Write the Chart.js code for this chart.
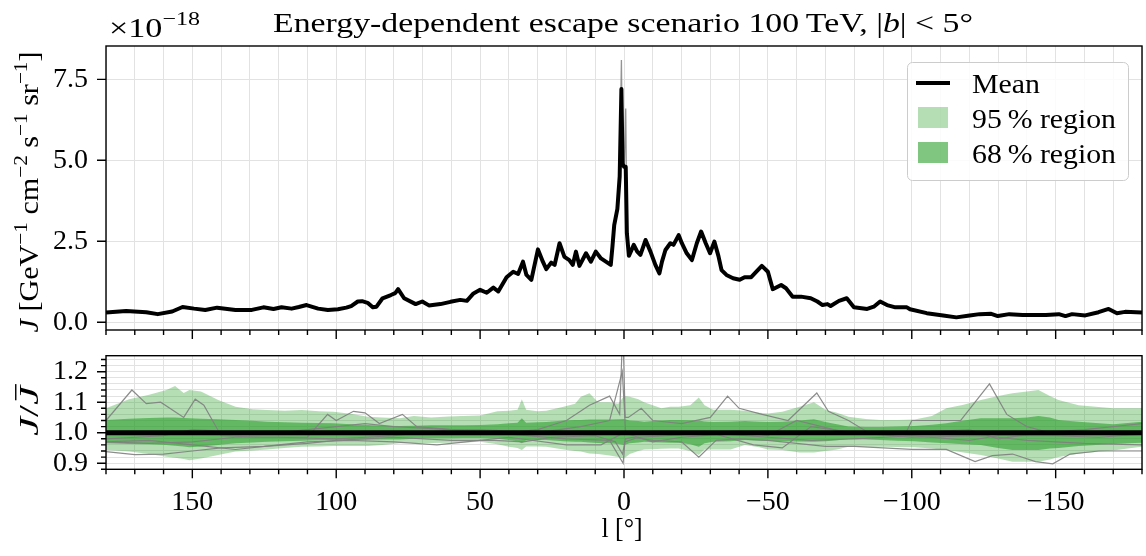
<!DOCTYPE html>
<html>
<head>
<meta charset="utf-8">
<script src="https://cdn.jsdelivr.net/npm/chart.js@4.4.1/dist/chart.umd.min.js"></script>
<style>
  html, body { margin: 0; padding: 0; background: #fff; }
  #wrap { position: relative; width: 1146px; height: 556px; }
  #topChart { position: absolute; left: 0; top: 0; }
  #ratioChart { position: absolute; left: 0; top: 340px; }
</style>
</head>
<body>
<div id="wrap">
  <canvas id="topChart" width="1146" height="340"></canvas>
  <canvas id="ratioChart" width="1146" height="216"></canvas>
</div>
<script>
// ---- data ----
// mean J (x 1e-18) against galactic longitude l
const meanL = [
  180, 173, 166, 162, 157, 153.4, 149.4, 145.5, 141.4, 135,
  129.3, 125.3, 121.8, 119, 115.5, 113, 110.3, 106.3, 102.9, 99.4,
  96.5, 94.8, 92.5, 91, 89.1, 87.3, 86, 83.9, 81, 79.5,
  78.5, 76.4, 72.4, 70.1, 67.8, 63.8, 60.3, 56.9, 54.6, 52.3,
  50, 47.7, 45.4, 43.7, 40.8, 38.5, 36.8, 35.1, 33.9, 32.2,
  29.9, 28.2, 27, 25.3, 24.1, 22.4, 20.7, 19, 17.8, 16.7,
  15.5, 13.2, 11.5, 9.8, 8, 6.3, 4.6, 4.0, 3.4, 2.3,
  1.5, 0.9, 0.5, 0, -0.6, -1.0, -1.7, -3.4, -4.6, -5.7,
  -7.5, -9.2, -10.9, -12.3, -13.2, -14.4, -16.1, -17.2, -19, -20.1,
  -21.8, -23.6, -25.3, -26.8, -28.4, -29.9, -31.4, -32.8, -33.9, -35.6,
  -37.9, -40.2, -41.9, -44.2, -46, -47.9, -50, -51.7, -54.6, -56.3,
  -58.6, -61.5, -64.9, -67.2, -69, -70.7, -71.8, -74.7, -77.4, -79.9,
  -84.5, -86.8, -89, -91.4, -94.3, -98.3, -99.4, -105.2, -110.9, -115.5,
  -120.1, -123.6, -127.6, -129.9, -133.9, -138.5, -146.6, -151.1, -153.4, -155.7,
  -160.3, -164.9, -168.4, -171.3, -174.1, -180
];
const meanJ = [
  0.30, 0.35, 0.31, 0.25, 0.33, 0.47, 0.42, 0.38, 0.45, 0.38,
  0.38, 0.46, 0.41, 0.46, 0.42, 0.47, 0.53, 0.42, 0.38, 0.40,
  0.45, 0.50, 0.64, 0.65, 0.60, 0.46, 0.48, 0.74, 0.84, 0.90,
  1.02, 0.74, 0.56, 0.64, 0.52, 0.56, 0.63, 0.69, 0.66, 0.89,
  1.00, 0.91, 1.07, 0.95, 1.39, 1.56, 1.49, 1.87, 1.46, 1.31,
  2.25, 1.87, 1.64, 1.84, 1.77, 2.44, 2.02, 1.92, 1.77, 2.18,
  1.74, 2.13, 1.87, 2.18, 1.97, 1.87, 1.77, 2.35, 3.0, 3.5,
  4.5, 7.2, 4.9, 4.8, 4.8, 2.75, 2.05, 2.39, 2.18, 2.08,
  2.54, 2.18, 1.77, 1.51, 1.87, 2.23, 2.44, 2.39, 2.69, 2.44,
  2.13, 1.92, 2.44, 2.80, 2.44, 2.13, 2.49, 2.05, 1.61, 1.46,
  1.36, 1.31, 1.39, 1.39, 1.56, 1.74, 1.56, 1.02, 1.15, 1.05,
  0.79, 0.79, 0.74, 0.64, 0.53, 0.56, 0.50, 0.66, 0.74, 0.46,
  0.41, 0.48, 0.64, 0.53, 0.46, 0.46, 0.40, 0.28, 0.21, 0.15,
  0.21, 0.25, 0.26, 0.19, 0.25, 0.22, 0.22, 0.25, 0.19, 0.25,
  0.21, 0.31, 0.41, 0.28, 0.32, 0.30
];
// grey sample poking out above the mean at the centre
const spikeL = [2.3, 1.5, 0.9, 0.5, -0.1, -0.6, -1.0];
const spikeJ = [3.5, 4.6, 8.1, 4.9, 4.8, 6.6, 2.7];

// ratio bands J / mean
const bandL = [
  180, 172, 165, 159, 156, 153, 151, 147, 141, 135,
  129, 124, 118, 112, 106, 101, 95, 89, 84, 78,
  73, 67, 61, 56, 50, 44, 40, 37, 35.5, 34,
  30, 27, 21, 17, 15, 12, 9, 5, 2, 0,
  -2, -5, -7, -10, -13, -16, -19, -23, -26, -28,
  -31, -37, -42, -47, -50, -55, -61, -66, -70, -74,
  -78, -84, -89, -95, -101, -107, -112, -118, -124, -130,
  -135, -140, -144, -148, -151, -158, -164, -170, -175, -180
];
const hi95 = [
  1.08, 1.11, 1.124, 1.14, 1.153, 1.13, 1.14, 1.135, 1.107, 1.085,
  1.077, 1.074, 1.072, 1.074, 1.07, 1.069, 1.062, 1.052, 1.05, 1.047,
  1.055, 1.05, 1.053, 1.055, 1.056, 1.07, 1.072, 1.075, 1.11, 1.075,
  1.07, 1.072, 1.085, 1.095, 1.118, 1.129, 1.10, 1.10, 1.095, 1.12,
  1.118, 1.11, 1.10, 1.09, 1.08, 1.085, 1.085, 1.09, 1.115, 1.09,
  1.075, 1.075, 1.072, 1.065, 1.063, 1.069, 1.085, 1.10, 1.075, 1.065,
  1.052, 1.045, 1.042, 1.042, 1.043, 1.055, 1.08, 1.092, 1.107, 1.12,
  1.129, 1.135, 1.14, 1.12, 1.107, 1.09, 1.085, 1.08, 1.08, 1.08
];
const lo95 = [
  0.943, 0.938, 0.93, 0.921, 0.918, 0.914, 0.91, 0.915, 0.927, 0.938,
  0.942, 0.945, 0.95, 0.954, 0.955, 0.956, 0.956, 0.956, 0.96, 0.965,
  0.966, 0.966, 0.967, 0.968, 0.97, 0.962, 0.954, 0.95, 0.943, 0.955,
  0.955, 0.954, 0.945, 0.94, 0.938, 0.932, 0.93, 0.925, 0.92, 0.915,
  0.93, 0.94, 0.945, 0.946, 0.947, 0.948, 0.948, 0.94, 0.927, 0.945,
  0.945, 0.945, 0.96, 0.952, 0.945, 0.943, 0.935, 0.935, 0.94, 0.945,
  0.954, 0.954, 0.954, 0.953, 0.952, 0.948, 0.943, 0.935, 0.927, 0.915,
  0.905, 0.905, 0.905, 0.912, 0.92, 0.932, 0.937, 0.942, 0.948, 0.954
];
const hi68 = [
  1.042, 1.046, 1.048, 1.05, 1.05, 1.048, 1.047, 1.046, 1.044, 1.042,
  1.039, 1.036, 1.034, 1.033, 1.032, 1.031, 1.028, 1.025, 1.023, 1.022,
  1.023, 1.024, 1.024, 1.024, 1.025, 1.028, 1.031, 1.033, 1.047, 1.033,
  1.034, 1.035, 1.04, 1.042, 1.042, 1.043, 1.043, 1.043, 1.044, 1.045,
  1.04, 1.038, 1.036, 1.038, 1.04, 1.042, 1.042, 1.041, 1.04, 1.037,
  1.035, 1.036, 1.038, 1.036, 1.035, 1.036, 1.04, 1.044, 1.035, 1.028,
  1.02, 1.019, 1.019, 1.02, 1.022, 1.026, 1.031, 1.04, 1.047, 1.047,
  1.047, 1.05, 1.055, 1.05, 1.042, 1.036, 1.032, 1.028, 1.032, 1.036
];
const lo68 = [
  0.965, 0.963, 0.962, 0.96, 0.957, 0.955, 0.952, 0.955, 0.96, 0.965,
  0.968, 0.97, 0.972, 0.974, 0.975, 0.976, 0.977, 0.977, 0.978, 0.978,
  0.98, 0.982, 0.982, 0.983, 0.983, 0.98, 0.976, 0.972, 0.965, 0.975,
  0.976, 0.976, 0.972, 0.97, 0.97, 0.968, 0.966, 0.965, 0.963, 0.96,
  0.965, 0.968, 0.97, 0.969, 0.968, 0.967, 0.967, 0.962, 0.954, 0.965,
  0.97, 0.972, 0.976, 0.974, 0.973, 0.972, 0.971, 0.97, 0.972, 0.975,
  0.979, 0.978, 0.976, 0.974, 0.972, 0.968, 0.965, 0.962, 0.96, 0.95,
  0.943, 0.943, 0.943, 0.948, 0.95, 0.956, 0.96, 0.963, 0.965, 0.967
];
const ratioMeanL = [180, -180];
const ratioMean = [1, 1];

// individual grey samples in the ratio panel
const s1L = [180, 171, 166, 161, 153, 149, 146, 140, 125, 110, 103, 100, 94, 90, 85, 77, 72, 60, 50, 40,
  30, 20, 12, 5, 1.5, 0.4, -0.4, -1.5, -6, -10, -20, -30, -36, -40, -48, -57, -67, -71, -78, -85,
  -98, -100, -117, -127, -133, -140, -150, -165, -180];
const s1V = [1.04, 1.14, 1.095, 1.10, 1.05, 1.11, 1.09, 0.99, 0.985, 0.985, 1.06, 1.04, 1.07, 1.065, 1.03, 1.06, 1.02, 1.01, 1.005, 1.0,
  1.01, 1.04, 1.09, 1.12, 1.06, 1.35, 1.05, 1.05, 1.08, 1.04, 1.03, 1.05, 1.12, 1.08, 1.06, 1.04, 1.13, 1.07, 1.04, 1.0,
  1.0, 1.04, 1.04, 1.16, 1.06, 1.02, 0.995, 1.0, 1.0];
const s2L = [180, 170, 160, 150, 140, 125, 110, 100, 80, 60, 45, 35, 25, 10, 3, 0.5, -0.5, -3, -10, -20,
  -26, -32, -40, -50, -60, -70, -80, -90, -100, -112, -122, -128, -135, -143, -149, -155, -165, -180];
const s2V = [0.938, 0.928, 0.93, 0.94, 0.95, 0.955, 0.965, 0.975, 0.985, 0.975, 0.975, 0.97, 0.985, 0.99, 0.97, 0.93, 0.98, 0.985, 0.975, 0.97,
  0.92, 0.975, 0.98, 0.975, 0.965, 0.955, 0.955, 0.95, 0.945, 0.945, 0.905, 0.925, 0.93, 0.905, 0.898, 0.93, 0.94, 0.94];
const s3L = [180, 165, 150, 135, 120, 100, 80, 60, 40, 20, 5, 0.3, -0.3, -5, -15, -30, -45, -55, -65, -80, -100, -125, -140, -160, -180];
const s3V = [0.97, 0.965, 0.97, 0.985, 0.985, 0.98, 0.99, 1.01, 0.995, 0.98, 0.975, 0.9, 0.97, 0.985, 0.99, 1.0, 0.96, 0.95, 1.02, 1.0, 0.985, 0.99, 0.975, 0.965, 0.96];
const s4L = [180, 160, 150, 140, 120, 100, 90, 80, 60, 50, 30, 15, 5, 0.6, -0.6, -10, -25, -40, -50, -60, -75, -100, -120, -130, -145, -160, -180];
const s4V = [0.98, 0.99, 1.01, 1.005, 1.0, 1.02, 1.03, 1.02, 1.01, 1.01, 1.0, 1.02, 1.04, 1.2, 1.0, 1.0, 1.0, 1.005, 0.99, 1.04, 1.005, 1.0, 1.01, 0.98, 1.0, 1.01, 1.03];
const s5L = [180, 165, 150, 135, 120, 110, 95, 80, 65, 55, 40, 20, 8, 0, -10, -20, -35, -50, -65, -80, -100, -120, -130, -150, -165, -180];
const s5V = [0.97, 0.975, 0.96, 0.945, 0.96, 0.97, 0.975, 0.97, 0.96, 0.97, 0.985, 0.96, 0.96, 1.0, 0.97, 0.985, 0.995, 0.985, 0.975, 0.98, 0.99, 0.975, 0.99, 0.99, 0.985, 0.995];

// ticks
const jTicks = [0, 2.5, 5, 7.5];
const ratioMajor = [0.9, 1.0, 1.1, 1.2];
const lTicks = [];
for (let v = -180; v <= 180; v += 10) lTicks.push(v);
const ratioTicks = [];
for (let k = 44; k <= 62; k++) ratioTicks.push(Math.round(k * 2) / 100);
const ratioMinor = ratioTicks.filter(v => !ratioMajor.some(m => Math.abs(m - v) < 1e-6));

// ---- helpers ----
const SERIF = '"Liberation Serif", "Times New Roman", serif';
const GRID = '#e2e2e2';
const pts = (xs, ys) => xs.map((x, i) => ({ x: x, y: ys[i] }));
const minus = s => String(s).replace('-', '\u2212');

function drawRich(ctx, parts, x, y, o) {
  o = o || {};
  ctx.save();
  ctx.translate(x, y);
  if (o.rot) ctx.rotate(o.rot);
  let total = 0;
  const items = parts.map(p => {
    const size = p.size || o.size || 27;
    const font = (p.it ? 'italic ' : '') + size + 'px ' + SERIF;
    ctx.font = font;
    const w = ctx.measureText(p.t).width;
    total += w;
    return { p, font, w, size };
  });
  const sx = o.width ? o.width / total : 1;
  ctx.scale(sx, 1);
  let cx = o.align === 'center' ? -total / 2 : (o.align === 'right' ? -total : 0);
  ctx.fillStyle = '#000';
  ctx.textBaseline = 'alphabetic';
  ctx.textAlign = 'left';
  items.forEach(it => {
    ctx.font = it.font;
    ctx.fillText(it.p.t, cx, -(it.p.up || 0));
    if (it.p.bar) ctx.fillRect(cx + it.w * 0.25, -it.size * 0.85, it.w * 0.85, 1.4);
    cx += it.w;
  });
  ctx.restore();
}

function makeFrame(yMajor, yMinor) {
  return {
    id: 'frame',
    afterDatasetsDraw(chart) {
      const ctx = chart.ctx, a = chart.chartArea;
      const xs = chart.scales.x, ys = chart.scales.y;
      ctx.save();
      ctx.strokeStyle = '#000';
      ctx.lineWidth = 1.4;
      ctx.strokeRect(a.left, a.top, a.right - a.left, a.bottom - a.top);
      ctx.beginPath();
      lTicks.forEach(v => {
        const p = xs.getPixelForValue(v);
        const len = v % 50 === 0 ? 9 : 5;
        ctx.moveTo(p, a.bottom); ctx.lineTo(p, a.bottom + len);
      });
      yMajor.forEach(v => {
        const p = ys.getPixelForValue(v);
        ctx.moveTo(a.left, p); ctx.lineTo(a.left - 9, p);
      });
      yMinor.forEach(v => {
        const p = ys.getPixelForValue(v);
        ctx.moveTo(a.left, p); ctx.lineTo(a.left - 5, p);
      });
      ctx.stroke();
      ctx.restore();
    }
  };
}

const topText = {
  id: 'topText',
  afterDraw(chart) {
    const ctx = chart.ctx;
    drawRich(ctx, [
      { t: 'Energy-dependent escape scenario 100\u2009TeV, |' },
      { t: 'b', it: true },
      { t: '| < 5°' }
    ], 623, 32, { align: 'center', width: 700 });
    drawRich(ctx, [{ t: '×10' }, { t: '\u221218', size: 19, up: 12 }], 109, 37, { width: 91 });
    drawRich(ctx, [
      { t: 'J', it: true }, { t: ' [GeV' }, { t: '\u22121', size: 19, up: 11 },
      { t: ' cm' }, { t: '\u22122', size: 19, up: 11 },
      { t: ' s' }, { t: '\u22121', size: 19, up: 11 },
      { t: ' sr' }, { t: '\u22121', size: 19, up: 11 }, { t: ']' }
    ], 38, 192, { align: 'center', rot: -Math.PI / 2, width: 281 });

    // legend
    ctx.save();
    ctx.beginPath();
    if (ctx.roundRect) ctx.roundRect(907.5, 62.5, 221, 118, 5);
    else ctx.rect(907.5, 62.5, 221, 118);
    ctx.fillStyle = 'rgba(255,255,255,0.85)';
    ctx.fill();
    ctx.strokeStyle = '#cccccc';
    ctx.lineWidth = 1;
    ctx.stroke();
    ctx.strokeStyle = '#000';
    ctx.lineWidth = 4;
    ctx.beginPath(); ctx.moveTo(916, 83); ctx.lineTo(950, 83); ctx.stroke();
    ctx.fillStyle = 'rgba(44,160,44,0.35)';
    ctx.fillRect(918, 107, 30, 21);
    ctx.fillStyle = 'rgba(44,160,44,0.6)';
    ctx.fillRect(918, 142, 30, 21);
    ctx.restore();
    drawRich(ctx, [{ t: 'Mean' }], 972, 93, { width: 68 });
    drawRich(ctx, [{ t: '95\u2009% region' }], 972, 128, { width: 144 });
    drawRich(ctx, [{ t: '68\u2009% region' }], 972, 163, { width: 144 });
  }
};

const ratioText = {
  id: 'ratioText',
  afterDraw(chart) {
    const ctx = chart.ctx;
    drawRich(ctx, [{ t: 'J', it: true }, { t: '/' }, { t: 'J', it: true, bar: true }],
      38, 71, { align: 'center', rot: -Math.PI / 2, width: 50 });
    drawRich(ctx, [{ t: 'l [°]' }], 622, 197, { align: 'center', width: 41 });
  }
};

const tickFont = { family: SERIF, size: 28 };

// ---- top panel ----
new Chart(document.getElementById('topChart'), {
  type: 'line',
  data: {
    datasets: [
      { label: 'Mean', data: pts(meanL, meanJ), borderColor: '#000', borderWidth: 4,
        pointRadius: 0, fill: false, borderJoinStyle: 'round' },
      { label: 'sample', data: pts(spikeL, spikeJ), borderColor: 'rgba(128,128,128,0.85)',
        borderWidth: 1.3, pointRadius: 0, fill: false }
    ]
  },
  options: {
    responsive: false,
    animation: false,
    events: [],
    layout: { padding: { left: 0, top: 46, right: 4, bottom: 0 } },
    plugins: { legend: { display: false }, tooltip: { enabled: false } },
    scales: {
      x: {
        type: 'linear', min: -180, max: 180, reverse: true,
        afterBuildTicks: s => { s.ticks = lTicks.map(v => ({ value: v })); },
        afterFit: s => { s.height = 10; s.paddingLeft = 0; s.paddingRight = 0; },
        ticks: { display: false },
        grid: { color: GRID, lineWidth: 1, drawTicks: false },
        border: { display: false }
      },
      y: {
        min: -0.24, max: 8.53,
        afterBuildTicks: s => { s.ticks = jTicks.map(v => ({ value: v })); },
        afterFit: s => { s.width = 106; s.paddingTop = 0; s.paddingBottom = 0; },
        ticks: { font: tickFont, color: '#000', padding: 18, callback: v => v.toFixed(1) },
        grid: { color: GRID, lineWidth: 1, drawTicks: false },
        border: { display: false }
      }
    }
  },
  plugins: [makeFrame(jTicks, []), topText]
});

// ---- ratio panel ----
const greyLine = (L, V) => ({ data: pts(L, V), borderColor: 'rgba(128,128,128,0.9)', borderWidth: 1.2, pointRadius: 0, fill: false });
const bandEdge = (L, V, fill, color) => ({
  data: pts(L, V), borderWidth: 0, borderColor: 'rgba(0,0,0,0)', pointRadius: 0,
  fill: fill, backgroundColor: color
});

new Chart(document.getElementById('ratioChart'), {
  type: 'line',
  data: {
    datasets: [
      { data: pts(ratioMeanL, ratioMean), borderColor: '#000', borderWidth: 5, pointRadius: 0, fill: false },
      greyLine(s1L, s1V), greyLine(s2L, s2V), greyLine(s3L, s3V), greyLine(s4L, s4V), greyLine(s5L, s5V),
      bandEdge(bandL, hi68, '+1', 'rgba(44,160,44,0.6)'),
      bandEdge(bandL, lo68, false, 'rgba(0,0,0,0)'),
      bandEdge(bandL, hi95, '+1', 'rgba(44,160,44,0.35)'),
      bandEdge(bandL, lo95, false, 'rgba(0,0,0,0)')
    ]
  },
  options: {
    responsive: false,
    animation: false,
    events: [],
    layout: { padding: { left: 0, top: 15.7, right: 4, bottom: 0 } },
    plugins: { legend: { display: false }, tooltip: { enabled: false } },
    scales: {
      x: {
        type: 'linear', min: -180, max: 180, reverse: true,
        afterBuildTicks: s => { s.ticks = lTicks.map(v => ({ value: v })); },
        afterFit: s => { s.height = 86.7; s.paddingLeft = 0; s.paddingRight = 0; },
        ticks: {
          font: tickFont, color: '#000', padding: 17, autoSkip: false, maxRotation: 0, minRotation: 0,
          callback: v => (v % 50 === 0 && Math.abs(v) < 180) ? minus(v) : ''
        },
        grid: { color: GRID, lineWidth: 1, drawTicks: false },
        border: { display: false }
      },
      y: {
        min: 0.88, max: 1.2524,
        afterBuildTicks: s => { s.ticks = ratioTicks.map(v => ({ value: v })); },
        afterFit: s => { s.width = 106; s.paddingTop = 0; s.paddingBottom = 0; },
        ticks: {
          font: tickFont, color: '#000', padding: 18, autoSkip: false,
          callback: v => ratioMajor.some(m => Math.abs(m - v) < 1e-6) ? v.toFixed(1) : ''
        },
        grid: { color: GRID, lineWidth: 1, drawTicks: false },
        border: { display: false }
      }
    }
  },
  plugins: [makeFrame(ratioMajor, ratioMinor), ratioText]
});
</script>
</body>
</html>
